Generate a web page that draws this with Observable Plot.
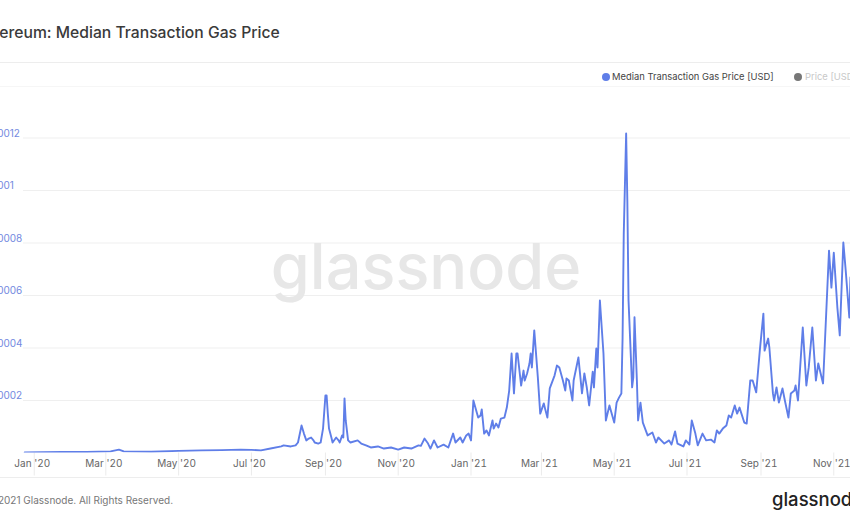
<!DOCTYPE html>
<html><head><meta charset="utf-8">
<script src="https://cdn.jsdelivr.net/npm/d3@7"></script>
<script src="https://cdn.jsdelivr.net/npm/@observablehq/plot@0.6"></script>
<style>
body{margin:0;width:850px;height:525px;overflow:hidden;position:relative;background:#fff;font-family:Inter,"Open Sans",sans-serif}
.abs{position:absolute;white-space:nowrap}
.hr{position:absolute;left:0;width:850px;height:1px;background:#ededed}
.dot{position:absolute;width:8px;height:8px;border-radius:50%}
#chart svg{max-width:none}
</style></head><body>
<script>
const title = "Ethereum: Median Transaction Gas Price";
const seriesName = "Median Transaction Gas Price [USD]";
const otherSeries = "Price [USD]";
const footer = "© 2021 Glassnode. All Rights Reserved.";
const brand = "glassnode";

const yTicks = [0.0002, 0.0004, 0.0006, 0.0008, 0.001, 0.0012];
const yLabels = ["0.0002", "0.0004", "0.0006", "0.0008", "0.001", "0.0012"];
const xTickDates = ["2020-01-01","2020-03-01","2020-05-01","2020-07-01","2020-09-01","2020-11-01",
                    "2021-01-01","2021-03-01","2021-05-01","2021-07-01","2021-09-01","2021-11-01"];

const dates = [
  "2019-12-24","2020-01-07","2020-01-24","2020-02-14","2020-03-05","2020-03-12","2020-03-16","2020-04-08",
  "2020-05-01","2020-05-20","2020-06-06","2020-06-22","2020-07-01","2020-07-09","2020-07-17","2020-07-26","2020-07-28",
  "2020-08-03","2020-08-07","2020-08-09","2020-08-12","2020-08-14","2020-08-16","2020-08-18","2020-08-20","2020-08-22","2020-08-23","2020-08-26","2020-08-28","2020-08-30",
  "2020-09-01","2020-09-02","2020-09-03","2020-09-04","2020-09-06","2020-09-07","2020-09-10","2020-09-12","2020-09-13","2020-09-15","2020-09-16","2020-09-17","2020-09-18","2020-09-20","2020-09-22","2020-09-28",
  "2020-10-01","2020-10-05","2020-10-09","2020-10-15","2020-10-20","2020-10-26",
  "2020-11-01","2020-11-06","2020-11-12","2020-11-18","2020-11-20","2020-11-23","2020-11-26","2020-11-28",
  "2020-12-01","2020-12-04","2020-12-09","2020-12-13","2020-12-17","2020-12-19","2020-12-23","2020-12-25","2020-12-28","2020-12-30",
  "2021-01-01","2021-01-03","2021-01-07","2021-01-09","2021-01-10","2021-01-12","2021-01-14","2021-01-16","2021-01-19","2021-01-20","2021-01-22","2021-01-24","2021-01-26","2021-01-29","2021-01-31",
  "2021-02-02","2021-02-04","2021-02-06","2021-02-08","2021-02-09","2021-02-12","2021-02-14","2021-02-15","2021-02-17","2021-02-19","2021-02-20","2021-02-21","2021-02-23","2021-02-26","2021-02-28",
  "2021-03-03","2021-03-04","2021-03-06","2021-03-08","2021-03-12","2021-03-14","2021-03-16","2021-03-19","2021-03-21","2021-03-22","2021-03-24","2021-03-27","2021-03-28",
  "2021-04-01","2021-04-04","2021-04-06","2021-04-08","2021-04-10","2021-04-13","2021-04-14","2021-04-16","2021-04-17","2021-04-19","2021-04-22","2021-04-24","2021-04-27",
  "2021-05-01","2021-05-03","2021-05-05","2021-05-07","2021-05-08","2021-05-09","2021-05-11","2021-05-12","2021-05-13","2021-05-16","2021-05-17","2021-05-18","2021-05-20","2021-05-21","2021-05-23","2021-05-25","2021-05-29",
  "2021-06-02","2021-06-05","2021-06-07","2021-06-12","2021-06-16","2021-06-18","2021-06-21","2021-06-23","2021-06-28","2021-06-30",
  "2021-07-03","2021-07-05","2021-07-08","2021-07-10","2021-07-14","2021-07-17","2021-07-21","2021-07-24","2021-07-26","2021-07-28","2021-07-31",
  "2021-08-03","2021-08-05","2021-08-07","2021-08-10","2021-08-12","2021-08-14","2021-08-18","2021-08-20","2021-08-23","2021-08-25","2021-08-28","2021-08-31",
  "2021-09-03","2021-09-04","2021-09-07","2021-09-08","2021-09-11","2021-09-12","2021-09-14","2021-09-16","2021-09-19","2021-09-21","2021-09-24","2021-09-26","2021-09-29","2021-09-30",
  "2021-10-02","2021-10-06","2021-10-09","2021-10-11","2021-10-14","2021-10-17","2021-10-19","2021-10-23","2021-10-28","2021-10-30",
  "2021-11-01","2021-11-04","2021-11-06","2021-11-09","2021-11-11","2021-11-14","2021-11-15","2021-11-17"
];
const values = [
  0.000002,0.000003,0.000004,0.000004,0.000006,0.000013,0.000006,0.000005,
  0.000008,0.00001,0.000011,0.000013,0.000012,0.00001,0.000017,0.000025,0.000029,
  0.000025,0.000029,0.00004,0.000105,0.000074,0.000048,0.000055,0.000059,0.000048,0.00004,0.000036,0.00004,0.000093,
  0.000219,0.000219,0.00015,0.000093,0.000059,0.00004,0.000059,0.000048,0.00004,0.000067,0.000059,0.000208,0.000124,0.000048,0.00004,0.000048,
  0.000036,0.000029,0.000021,0.000025,0.000017,0.000021,
  0.000013,0.000021,0.000017,0.000029,0.000027,0.000055,0.000036,0.000017,
  0.000048,0.000021,0.000032,0.000021,0.000074,0.00004,0.000059,0.00004,0.000067,0.000074,
  0.000048,0.0002,0.000135,0.000143,0.000166,0.000074,0.000086,0.000067,0.000124,0.000093,0.000112,0.000097,0.000131,0.000135,0.000173,
  0.000238,0.000379,0.000227,0.000379,0.000379,0.000257,0.000314,0.000276,0.000303,0.000341,0.000379,0.000326,0.000467,0.000288,0.00015,
  0.000189,0.00017,0.000135,0.000246,0.000295,0.000333,0.000326,0.000276,0.000238,0.000284,0.000276,0.0002,0.000276,
  0.000364,0.000227,0.000303,0.00025,0.000181,0.00031,0.00025,0.000398,0.000326,0.000581,0.000379,0.000124,0.000181,
  0.000116,0.000192,0.000211,0.000227,0.000436,0.000836,0.001217,0.000962,0.000581,0.00025,0.000288,0.000517,0.000276,0.000124,0.000192,0.000116,0.000067,
  0.000078,0.00004,0.000059,0.000036,0.000048,0.000032,0.000082,0.000036,0.000025,0.000048,
  0.000032,0.000124,0.000074,0.000029,0.000074,0.000048,0.000051,0.00004,0.000086,0.000074,0.000093,
  0.000105,0.000143,0.000135,0.000181,0.00015,0.000173,0.000116,0.000112,0.000276,0.000276,0.000231,0.00039,
  0.000531,0.00039,0.000436,0.000402,0.000227,0.0002,0.00025,0.000192,0.000246,0.0002,0.000135,0.000227,0.000238,0.000257,
  0.0002,0.000478,0.000257,0.000326,0.000478,0.000276,0.000341,0.000265,0.000771,0.00063,
  0.000763,0.000554,0.000448,0.000802,0.000695,0.000516,0.000669,0.00062
];
</script>
<div class="abs" id="title" style="left:-25px;top:23px;font-size:15.7px;font-weight:500;color:#3a3a3a"></div>
<div class="hr" style="top:62px"></div>
<div class="hr" style="top:86px;background:#f6f6f6"></div>
<div class="dot" style="left:602px;top:73px;background:#5f7ee8"></div>
<div class="abs" id="leg1" style="left:612px;top:70px;font-size:9.4px;color:#444;line-height:14px"></div>
<div class="dot" style="left:794px;top:73px;background:#777"></div>
<div class="abs" id="leg2" style="left:805px;top:70px;font-size:9.4px;color:#c8c8c8;line-height:14px"></div>
<div id="chart" class="abs" style="left:-30px;top:90px;width:900px"></div>
<div class="hr" style="top:477px"></div>
<div class="abs" id="foot" style="left:-14px;top:494px;font-size:10px;color:#777;line-height:12px"></div>
<div class="abs" id="brand" style="left:772px;top:488px;font-size:18.5px;font-weight:500;color:#222;line-height:22px"></div>
<script>
document.getElementById("title").textContent = title;
document.getElementById("leg1").textContent = seriesName;
document.getElementById("leg2").textContent = otherSeries;
document.getElementById("foot").textContent = footer;
document.getElementById("brand").textContent = brand;

const data = dates.map((d, i) => ({date: new Date(d), value: values[i]}));
const xTicks = xTickDates.map(d => new Date(d));

const chart = Plot.plot({
  width: 900, height: 390,
  marginLeft: 53, marginRight: 20, marginTop: 21.25, marginBottom: 27.5,
  style: {background: "transparent", fontFamily: "Inter, 'Open Sans', sans-serif", maxWidth: "none"},
  x: {type: "utc", domain: [new Date("2019-12-23"), new Date("2021-11-15")]},
  y: {domain: [0, 0.0013], axis: null},
  marks: [
    Plot.ruleY(yTicks, {stroke: "#efefef"}),
    Plot.text([brand], {frameAnchor: "middle", dx: -11, dy: -14, fontSize: 63, fontWeight: 500, fill: "#e7e7e7"}),
    Plot.axisX(xTicks, {tickSize: 23, color: "#ebebeb", tickFormat: () => ""}),
    Plot.axisX(xTicks, {tickSize: 0, tickPadding: 7, dx: -2, tickFormat: d3.utcFormat("%b '%y"), fontSize: 10, color: "#666"}),
    Plot.line(data, {x: "date", y: "value", stroke: "#5f7ee8", strokeWidth: 1.9, strokeLinejoin: "round", clip: true}),
    Plot.text(yTicks, {y: d => d, text: (d, i) => yLabels[i], frameAnchor: "left", textAnchor: "start", dx: -35, dy: -4.5, fill: "#7389e0", fontSize: 10})
  ]
});
document.getElementById("chart").appendChild(chart);
</script>
</body></html>
